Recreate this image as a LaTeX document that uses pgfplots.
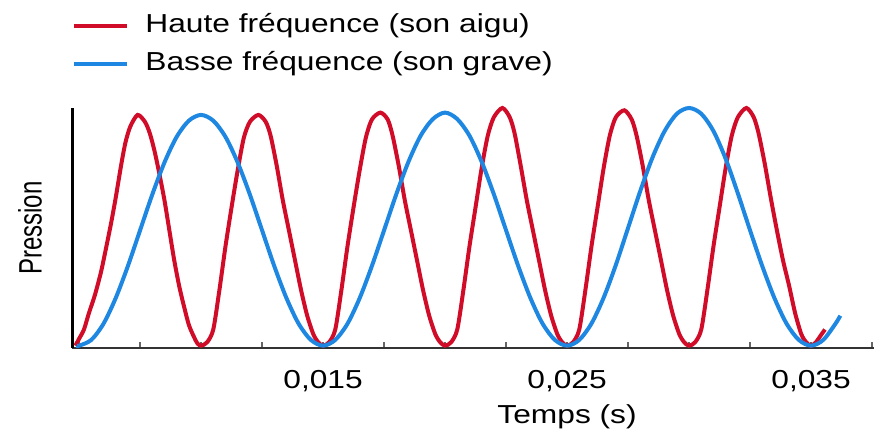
\documentclass[border=0pt]{standalone}
\usepackage{fontspec}
\setmainfont{Liberation Sans}
\usepackage{graphicx}
\usepackage{pgfplots}
\pgfplotsset{compat=1.18}

\definecolor{rouge}{RGB}{208,12,40}
\definecolor{bleu}{RGB}{30,135,225}
% the reference text is stretched sideways
\newcommand\sx[1]{\scalebox{1.22}[1]{#1}}
\newcommand\txt{\fontsize{13}{15}\selectfont}

\begin{document}
\begin{tikzpicture}
\useasboundingbox (-36pt,-42pt) rectangle (401pt,174pt);
\begin{axis}[
    at={(0,0)}, anchor=south west,
    scale only axis, width=401pt, height=120pt,
    xmin=0.00471, xmax=0.03758,
    ymin=-0.01, ymax=1.03,
    clip=false,
    scaled x ticks=false,
    axis x line=bottom, axis y line=left,
    x axis line style={-, line width=1.4pt, black!80},
    y axis line style={-, line width=1.5pt, black},
    ytick=\empty,
    xtick={0.015,0.025,0.035},
    xticklabels={{\sx{0,015}},{\sx{0,025}},{\sx{0,035}}},
    minor xtick={0.005,0.0075,0.01,0.0125,0.0175,0.02,0.0225,0.0275,0.03,0.0325,0.0375},
    tick align=inside,
    major tick length=3pt, minor tick length=3pt,
    tick style={black!60, line width=1pt},
    xticklabel style={font=\txt, yshift=-7.5pt},
    xlabel={\sx{Temps (s)}},
    xlabel style={font=\txt, at={(axis description cs:0.6173,0)}, anchor=north, inner sep=0pt, yshift=-28pt},
    ylabel={\scalebox{1}[1.35]{Pression}},
    ylabel style={font=\fontsize{12}{14}\selectfont, at={(axis description cs:-0.0524,0.5)}, anchor=center, rotate=0},
    legend style={at={(axis description cs:0,1.397)}, anchor=north west, draw=none, fill=none,
        inner sep=0pt, row sep=8pt, font=\txt, nodes={inner sep=0pt},
        /tikz/every odd column/.append style={column sep=8pt}},
    legend cell align=left,
    legend image code/.code={\draw[#1] (0pt,-1pt) -- (26.5pt,-1pt);},
]

\addplot[rouge, line width=2pt, smooth, tension=0.45] coordinates {
(0.00485,0.0) (0.0050,0.03) (0.0052,0.07) (0.0054,0.14) (0.00565,0.22)
(0.0059,0.32) (0.0061,0.42) (0.00631,0.53) (0.0065,0.64) (0.00672,0.78)
(0.0069,0.88) (0.0071,0.95) (0.0074,1.0) (0.0077,0.97) (0.0079,0.92)
(0.0081,0.84) (0.0083,0.74) (0.0085,0.63) (0.0087,0.50) (0.0089,0.37)
(0.0091,0.26) (0.0093,0.17) (0.0095,0.09) (0.0097,0.04) (0.00985,0.01)
(0.0100,0.0)
(0.01025,0.015) (0.0105,0.07) (0.01075,0.24) (0.0110,0.43) (0.01125,0.6)
(0.0115,0.76) (0.01175,0.9) (0.0120,0.97) (0.01235,1.0) (0.01265,0.97)
(0.01285,0.91) (0.0131,0.78) (0.01335,0.63) (0.0136,0.5) (0.01385,0.37)
(0.0141,0.24) (0.01435,0.13) (0.0146,0.05) (0.0148,0.015) (0.0150,0.0)
(0.01525,0.015) (0.0155,0.07) (0.01575,0.24) (0.0160,0.43) (0.01625,0.6)
(0.0165,0.76) (0.01675,0.9) (0.0170,0.98) (0.01735,1.01) (0.01765,0.98)
(0.01785,0.91) (0.0181,0.78) (0.01835,0.63) (0.0186,0.5) (0.01885,0.37)
(0.0191,0.24) (0.01935,0.13) (0.0196,0.05) (0.0198,0.015) (0.0200,0.0)
(0.02025,0.015) (0.0205,0.07) (0.02075,0.24) (0.0210,0.43) (0.02125,0.6)
(0.0215,0.77) (0.02175,0.91) (0.0220,0.99) (0.02235,1.03) (0.02265,0.99)
(0.02285,0.92) (0.0231,0.78) (0.02335,0.63) (0.0236,0.5) (0.02385,0.37)
(0.0241,0.24) (0.02435,0.13) (0.0246,0.05) (0.0248,0.015) (0.0250,0.0)
(0.02525,0.015) (0.0255,0.07) (0.02575,0.24) (0.0260,0.43) (0.02625,0.6)
(0.0265,0.77) (0.02675,0.91) (0.0270,0.99) (0.02735,1.02) (0.02765,0.98)
(0.02785,0.91) (0.0281,0.78) (0.02835,0.63) (0.0286,0.5) (0.02885,0.37)
(0.0291,0.24) (0.02935,0.13) (0.0296,0.05) (0.0298,0.015) (0.0300,0.0)
(0.03025,0.015) (0.0305,0.07) (0.03075,0.24) (0.0310,0.43) (0.03125,0.6)
(0.0315,0.77) (0.03175,0.91) (0.0320,0.99) (0.03235,1.03) (0.03265,0.99)
(0.03285,0.92) (0.0331,0.79) (0.03335,0.64) (0.0336,0.5) (0.03385,0.37)
(0.0341,0.26) (0.03435,0.14) (0.0346,0.05) (0.0348,0.015) (0.0350,0.0)
(0.0352,0.015) (0.0354,0.045) (0.03557,0.07)
};
\addlegendentry{\sx{Haute fréquence (son aigu)}}

\addplot[bleu, line width=2pt, smooth, tension=0.5] coordinates {
(0.0049,0.0) (0.0050,0.0) (0.0055,0.025) (0.0060,0.095) (0.0065,0.206) (0.0070,0.345)
(0.0075,0.5) (0.0080,0.655) (0.0085,0.794) (0.0090,0.905) (0.0095,0.975)
(0.0100,1.0) (0.0105,0.975) (0.0110,0.905) (0.0115,0.794) (0.0120,0.655)
(0.0125,0.5) (0.0130,0.345) (0.0135,0.206) (0.0140,0.095) (0.0145,0.025)
(0.0150,0.0) (0.0155,0.025) (0.0160,0.095) (0.0165,0.206) (0.0170,0.345)
(0.0175,0.5) (0.0180,0.656) (0.0185,0.797) (0.0190,0.91) (0.0195,0.982)
(0.0200,1.01) (0.0205,0.982) (0.0210,0.91) (0.0215,0.797) (0.0220,0.656)
(0.0225,0.5) (0.0230,0.345) (0.0235,0.206) (0.0240,0.095) (0.0245,0.025)
(0.0250,0.0) (0.0255,0.025) (0.0260,0.096) (0.0265,0.208) (0.0270,0.35)
(0.0275,0.51) (0.0280,0.67) (0.0285,0.815) (0.0290,0.93) (0.0295,1.005)
(0.0300,1.03) (0.0305,1.005) (0.0310,0.93) (0.0315,0.81) (0.0320,0.66)
(0.0325,0.5) (0.0330,0.345) (0.0335,0.206) (0.0340,0.095) (0.0345,0.025)
(0.0350,0.0) (0.0355,0.025) (0.0360,0.095) (0.0362,0.13)
};
\addlegendentry{\sx{Basse fréquence (son grave)}}
\end{axis}
\end{tikzpicture}
\end{document}
